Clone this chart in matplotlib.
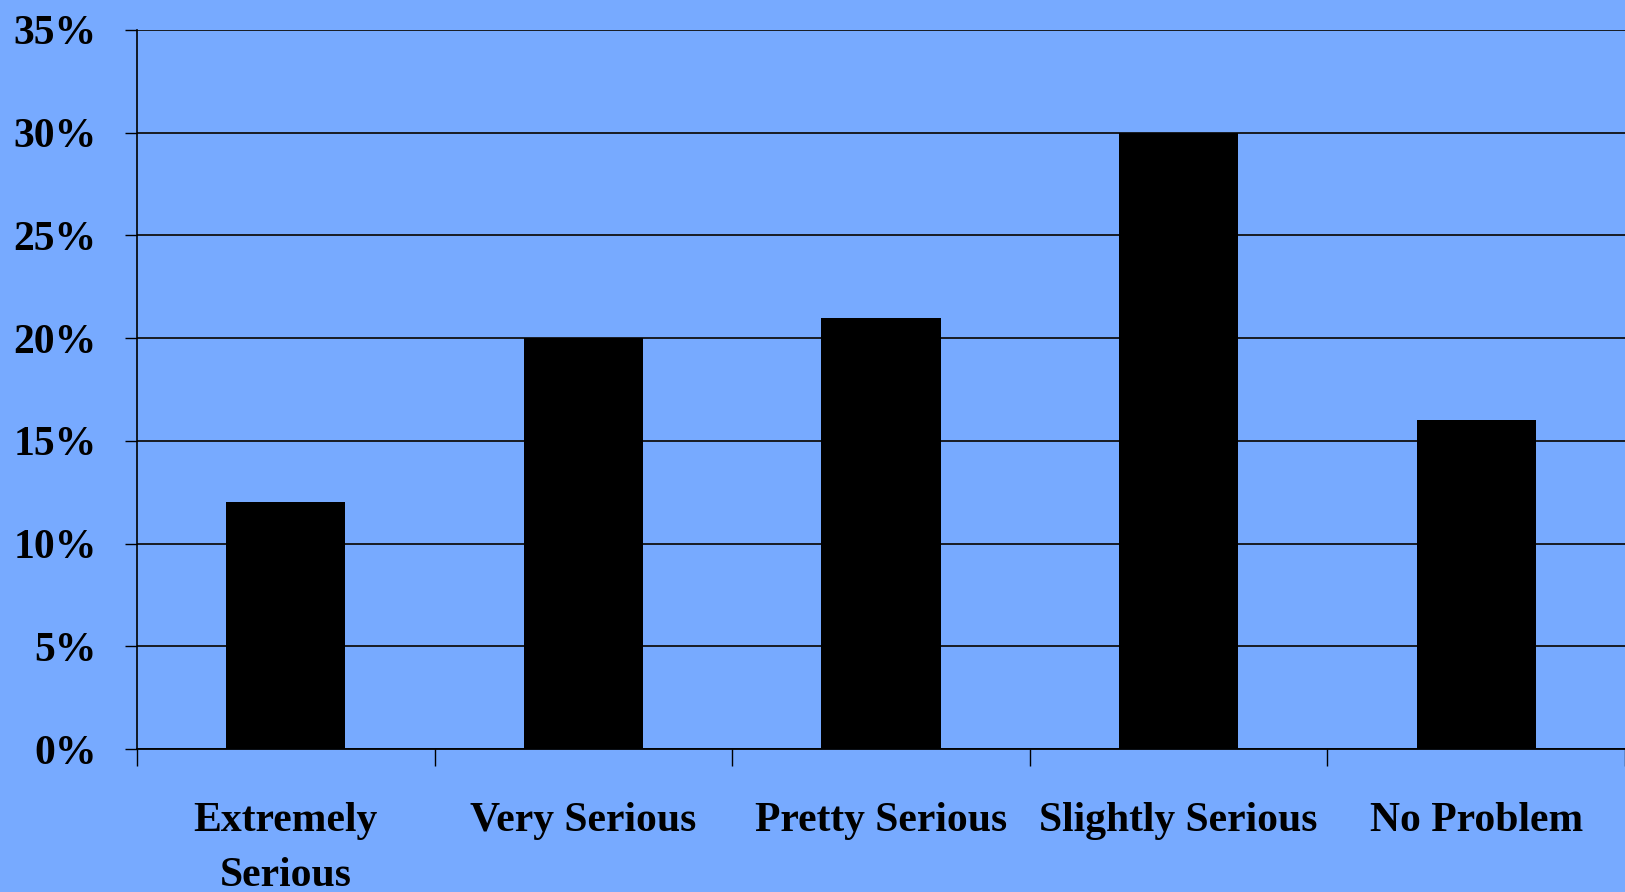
import matplotlib
matplotlib.use("Agg")
import matplotlib.pyplot as plt
import numpy as np

categories = ["Extremely\nSerious", "Very Serious", "Pretty Serious",
              "Slightly Serious", "No Problem"]
values = [12, 20, 21, 30, 16]
yticks = [0, 5, 10, 15, 20, 25, 30, 35]

bg = "#77aaff"
plt.rcParams["font.family"] = ["Liberation Serif", "DejaVu Serif"]
plt.rcParams["font.weight"] = "bold"

fig = plt.figure(figsize=(16.25, 8.92), dpi=100, facecolor=bg)
ax = fig.add_axes([0.0843, 0.1603, 0.9157, 0.8061], facecolor=bg)

x = np.arange(len(values))
ax.bar(x, values, width=0.4, color="black", zorder=3)

ax.set_xlim(-0.5, len(values) - 0.5)
ax.set_ylim(0, 35)
ax.set_yticks(yticks)
ax.set_yticklabels(["{}%".format(v) for v in yticks])
ax.yaxis.grid(True, color="#111111", linewidth=1.3, zorder=1)

# category names sit between the boundary ticks
ax.set_xticks(x)
ax.set_xticklabels(categories, fontsize=30, fontweight="bold", linespacing=1.6)
ax.tick_params(axis="x", length=0, pad=38)
ax.set_xticks(np.arange(len(values) + 1) - 0.5, minor=True)
ax.tick_params(axis="x", which="minor", length=12, width=1, color="black")
ax.tick_params(axis="y", length=9, width=1, color="black",
               labelsize=30, pad=20)

for side in ["top", "right"]:
    ax.spines[side].set_visible(False)
ax.spines["left"].set_linewidth(1.2)
ax.spines["bottom"].set_linewidth(1.3)

fig.savefig("out.png", dpi=100, facecolor=bg)
